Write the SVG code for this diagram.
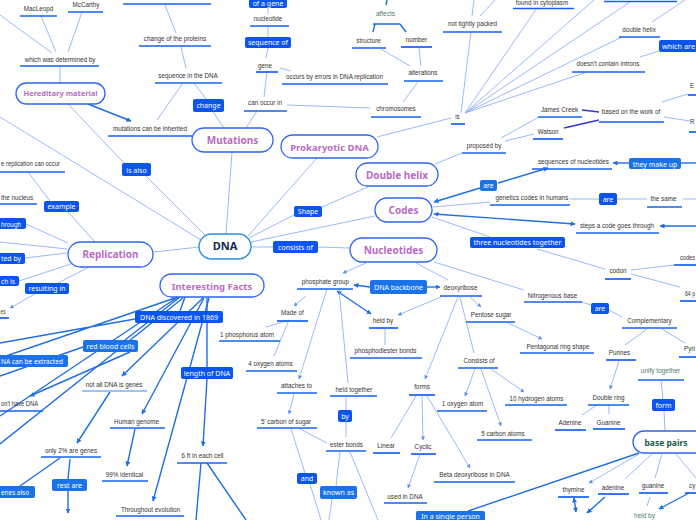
<svg xmlns="http://www.w3.org/2000/svg" width="696" height="520" viewBox="0 0 696 520">
<defs>
<style>
.t{font-family:"Liberation Sans",Arial,sans-serif;font-size:6.3px;fill:#333;text-anchor:middle}
.ts{font-family:"Liberation Sans",Arial,sans-serif;font-size:6.3px;fill:#333}
.tg{font-family:"Liberation Sans",Arial,sans-serif;font-size:6.5px;fill:#4d7a66;text-anchor:middle}
.u{stroke:#1560f5;stroke-width:1.7;fill:none}
.ul{stroke:#7fb0f0;stroke-width:1.7;fill:none}
.c{stroke:#8db2f6;stroke-width:0.9;fill:none}
.ck{stroke:#1f6fe3;stroke-width:1.4;fill:none}
.ci{stroke:#3434d8;stroke-width:1.3;fill:none}
.lb{fill:#0a55f0}
.lb2{fill:#1a73e8}
.lt{font-family:"Noto Sans",sans-serif;font-size:7px;fill:#fff;text-anchor:middle}
.lts{font-family:"Noto Sans",sans-serif;font-size:7px;fill:#fff}
.n{fill:#fff;stroke:#2b63f5;stroke-width:1.3}
.nt{font-family:"Noto Sans",sans-serif;font-size:10px;font-weight:bold;fill:#b86cc4;text-anchor:middle}
</style>
<marker id="a" viewBox="0 0 10 10" refX="9" refY="5" markerWidth="5" markerHeight="5" markerUnits="userSpaceOnUse" orient="auto-start-reverse"><path d="M0,0L10,5L0,10z" fill="#1f6fe3"/></marker>
<marker id="as" viewBox="0 0 10 10" refX="9" refY="5" markerWidth="4" markerHeight="4" markerUnits="userSpaceOnUse" orient="auto-start-reverse"><path d="M0,0L10,5L0,10z" fill="#5a8ff0"/></marker>
</defs>
<rect width="696" height="520" fill="#fff"/>

<g id="connectors">
<path class="c" d="M0,15L52,53M41,16L56,52M82,12L68,52M60,66L60,83M68,104L124,163M146,176L205,235M0,117L201,240M28,172L50,201M68,212L95,242M26,224L68,243M0,242L67,249M25,258L67,253M19,281L71,264M89,267L58,283M154,252L199,247M183,83L157,120M165,5L176,33M181,47L186,68M194,83L206,99M213,112L224,128M268,8L268,14M268,26L268,37M268,48L266,58M280,68L291,71M267,72L264,97M287,105L370,108M257,111L246,128M232,152L226,234M317,158L248,236"/>
<path class="ck" d="M88,104L131,121" marker-end="url(#a)"/>
<path class="c" d="M35,294L10,308" marker-end="url(#as)"/>
<path class="ck" d="M387,0L386,5M373,24L400,24M375,24L373,32M400,24L406,32"/>
<path class="c" d="M381,49L410,66M419,48L421,66M418,82L403,102M461,113L471,32M472,16L474,0M480,16L495,0M465,113L537,8M465,113L594,0M465,113L630,2M465,113L622,37M465,113L587,72M451,118L377,137M462,153L435,164M501,138L539,117M505,141L534,134M662,102L688,94M664,117L690,121M652,22L685,0M659,51L640,57"/>
<path class="ci" d="M582,110L599,112M564,128L599,120"/>
<path class="ck" d="M629,163L613,163" marker-end="url(#a)"/>
<path class="ck" d="M681,163L696,163"/>
<path class="ck" d="M498,183L548,168" marker-end="url(#a)"/>
<path class="ck" d="M480,188L434,202" marker-end="url(#a)"/>
<path class="c" d="M368,187L322,207M294,215L249,238M251,242L375,216M251,247L273,247M318,247L350,248M433,207L490,202M432,217L490,237M570,199L599,199M617,199L647,199M683,199L696,199M537,249L605,269M631,270L674,265M631,274L680,287M434,262L524,290M582,302L591,305M609,310L622,317M647,329L625,345M662,329L685,343M416,263L448,280"/>
<path class="ck" d="M434,214L575,224" marker-start="url(#a)" marker-end="url(#a)"/>
<path class="ck" d="M696,226L660,226" marker-end="url(#a)"/>
<path class="c" d="M366,263L343,273" marker-end="url(#as)"/>
<path class="ck" d="M370,287L354,285" marker-end="url(#a)"/>
<path class="ck" d="M427,287L440,287" marker-end="url(#a)"/>
<path class="ck" d="M337,291L371,314" marker-start="url(#a)" marker-end="url(#a)"/>
<path class="c" d="M441,297L398,315" marker-end="url(#as)"/>
<path class="c" d="M385,329L385,345"/>
<path class="c" d="M470,297L481,307" marker-end="url(#as)"/>
<path class="c" d="M506,322L542,339" marker-end="url(#as)"/>
<path class="c" d="M306,296L294,306" marker-end="url(#as)"/>
<path class="c" d="M289,320L266,327M289,320L274,356"/>
<path class="c" d="M327,289L299,379" marker-end="url(#as)"/>
<path class="c" d="M294,394L289,414" marker-end="url(#as)"/>
<path class="c" d="M339,289L348,383M346,397L346,410M346,422L346,437M300,429L327,443M291,429L305,473M310,484L321,520M340,452L336,486M332,499L329,520M350,452L378,520"/>
<path class="c" d="M458,297L425,379" marker-end="url(#as)"/>
<path class="c" d="M460,297L474,353M416,396L391,438"/>
<path class="c" d="M475,369L465,396" marker-end="url(#as)"/>
<path class="c" d="M481,369L501,426" marker-end="url(#as)"/>
<path class="c" d="M491,369L524,392" marker-end="url(#as)"/>
<path class="c" d="M422,396L423,440" marker-end="url(#as)"/>
<path class="c" d="M427,396L470,468" marker-end="url(#as)"/>
<path class="c" d="M420,454L408,488" marker-end="url(#as)"/>
<path class="ck" d="M639,453L468,511"/>
<path class="c" d="M619,361L610,389" marker-end="url(#as)"/>
<path class="c" d="M597,405L582,415M609,405L609,414M661,380L663,399M664,411L665,431M652,454L625,479M662,454L655,478M676,454L696,478M650,497L647,506"/>
<path class="c" d="M639,454L589,483" marker-end="url(#as)"/>
<path class="ck" d="M689,493L659,509" marker-end="url(#a)"/>
<path class="ck" d="M574,498L576,512" marker-start="url(#a)" marker-end="url(#a)"/>
<path class="ck" d="M605,497L587,513" marker-end="url(#a)"/>
<path class="ck" d="M175,298L0,358M185,297L180,311M135,319L0,343M180,297L125,340M83,347L0,376M178,297L0,416M183,298L0,444M207,298L207,367M60,458L20,486M70,459L68,479M201,463L196,520M207,463L246,520"/>
<path class="ck" d="M130,352L30,396" marker-end="url(#a)"/>
<path class="ck" d="M203,298L122,376" marker-end="url(#a)"/>
<path class="ck" d="M204,298L142,414" marker-end="url(#a)"/>
<path class="ck" d="M207,379L203,446" marker-end="url(#a)"/>
<path class="ck" d="M209,298L153,501" marker-end="url(#a)"/>
<path class="ck" d="M110,392L77,443" marker-end="url(#a)"/>
<path class="ck" d="M135,429L127,466" marker-end="url(#a)"/>
<path class="ck" d="M68,491L68,513" marker-end="url(#a)"/>
</g>

<g id="n-hereditary"><rect class="n" x="16" y="83" width="89" height="21" rx="10.5"/><text class="nt" x="60.5" y="96" style="font-size:7.5px">Hereditary material</text></g>
<g id="n-mutations"><rect class="n" x="192" y="128" width="81" height="24" rx="12"/><text class="nt" x="232.5" y="144">Mutations</text></g>
<g id="n-prokaryotic"><rect class="n" x="281" y="135" width="97" height="23" rx="11.5"/><text class="nt" x="329.5" y="150.5" style="font-size:9.5px">Prokaryotic DNA</text></g>
<g id="n-doublehelix"><rect class="n" x="356" y="163" width="82" height="23" rx="11.5"/><text class="nt" x="397" y="178.5">Double helix</text></g>
<g id="n-codes"><rect class="n" x="375" y="198" width="57" height="24" rx="12"/><text class="nt" x="403.5" y="213.5">Codes</text></g>
<g id="n-nucleotides"><rect class="n" x="350" y="238" width="87" height="24" rx="12"/><text class="nt" x="393.5" y="253.5">Nucleotides</text></g>
<g id="n-dna"><rect x="199" y="234" width="52" height="25" rx="12.5" fill="#fff" stroke="#2f8fdc" stroke-width="1.4"/><text x="225" y="250" style="font-family:'Noto Sans',sans-serif;font-size:11px;font-weight:bold;fill:#0f2a4f;text-anchor:middle">DNA</text></g>
<g id="n-replication"><rect class="n" x="68" y="242" width="85" height="25" rx="12.5"/><text class="nt" x="110.5" y="258">Replication</text></g>
<g id="n-facts"><rect class="n" x="160" y="274" width="104" height="23" rx="11.5"/><text class="nt" x="212" y="289.5" style="font-size:9.5px">Interesting Facts</text></g>
<g id="n-basepairs"><rect class="n" x="633" y="431" width="80" height="22" rx="11"/><text x="666" y="446" style="font-family:'Noto Sans',sans-serif;font-size:8.5px;font-weight:bold;fill:#1e5a48;text-anchor:middle">base pairs</text></g>

<g id="labels">
<g id="l-ofagene"><rect class="lb" x="249" y="-4" width="38" height="12" rx="2"/><text class="lt" x="268" y="5.5">of a gene</text></g>
<g id="l-sequenceof"><rect class="lb" x="245" y="37" width="46" height="11" rx="2"/><text class="lt" x="268" y="45">sequence of</text></g>
<g id="l-change"><rect class="lb" x="193" y="99" width="31" height="13" rx="2"/><text class="lt" x="208.5" y="108">change</text></g>
<g id="l-isalso"><rect class="lb" x="122" y="163" width="29" height="13" rx="2"/><text class="lt" x="136.5" y="172.5">is also</text></g>
<g id="l-whichare"><rect class="lb" x="659" y="40" width="40" height="12" rx="2"/><text class="lts" x="662" y="49" textLength="33" lengthAdjust="spacingAndGlyphs">which are</text></g>
<g id="l-theymakeup"><rect class="lb2" x="629" y="158" width="52" height="11" rx="2"/><text class="lt" x="655" y="166.5">they make up</text></g>
<g id="l-are1"><rect class="lb2" x="480" y="180" width="17" height="11" rx="2"/><text class="lt" x="488.5" y="188">are</text></g>
<g id="l-are2"><rect class="lb" x="599" y="193" width="18" height="12" rx="2"/><text class="lt" x="608" y="201.5">are</text></g>
<g id="l-shape"><rect class="lb" x="294" y="206" width="28" height="11" rx="2"/><text class="lt" x="308" y="214">Shape</text></g>
<g id="l-consistsof"><rect class="lb" x="273" y="241" width="45" height="12" rx="2"/><text class="lt" x="295.5" y="249.5">consists of</text></g>
<g id="l-three"><rect class="lb" x="470" y="237" width="95" height="11" rx="2"/><text class="lt" x="517.5" y="245">three nucleotides together</text></g>
<g id="l-backbone"><rect class="lb2" x="370" y="280" width="57" height="14" rx="2"/><text class="lt" x="398.5" y="289.5">DNA backbone</text></g>
<g id="l-are3"><rect class="lb" x="591" y="303" width="18" height="11" rx="2"/><text class="lt" x="600" y="311">are</text></g>
<g id="l-example"><rect class="lb" x="44" y="201" width="35" height="11" rx="2"/><text class="lt" x="61.5" y="209">example</text></g>
<g id="l-through"><rect class="lb" x="-4" y="218" width="30" height="11" rx="2"/><text class="lts" x="1" y="226.5" textLength="20" lengthAdjust="spacingAndGlyphs">hrough</text></g>
<g id="l-tedby"><rect class="lb" x="-4" y="253" width="29" height="11" rx="2"/><text class="lts" x="1" y="261" textLength="20" lengthAdjust="spacingAndGlyphs">ted by</text></g>
<g id="l-chis"><rect class="lb" x="-4" y="276" width="23" height="10" rx="2"/><text class="lts" x="1" y="283.5" textLength="14" lengthAdjust="spacingAndGlyphs">ch is</text></g>
<g id="l-resulting"><rect class="lb" x="25" y="283" width="44" height="11" rx="2"/><text class="lt" x="47" y="291">resulting in</text></g>
<g id="l-discovered"><rect class="lb" x="135" y="311" width="88" height="12" rx="2"/><text class="lt" x="179" y="319.5">DNA discovered in 1869</text></g>
<g id="l-redblood"><rect class="lb2" x="83" y="340" width="55" height="12" rx="2"/><text class="lt" x="110.5" y="348.5">red blood cells</text></g>
<g id="l-extracted"><rect class="lb2" x="-4" y="355" width="72" height="12" rx="2"/><text class="lts" x="1" y="363.5" textLength="62" lengthAdjust="spacingAndGlyphs">NA can be extracted</text></g>
<g id="l-length"><rect class="lb" x="181" y="367" width="52" height="12" rx="2"/><text class="lt" x="207" y="375.5">length of DNA</text></g>
<g id="l-enesalso"><rect class="lb2" x="-4" y="486" width="39" height="12" rx="2"/><text class="lts" x="1" y="494.5" textLength="28" lengthAdjust="spacingAndGlyphs">enes also</text></g>
<g id="l-restare"><rect class="lb2" x="52" y="479" width="35" height="12" rx="2"/><text class="lt" x="69.5" y="487.5">rest are</text></g>
<g id="l-form"><rect class="lb" x="652" y="399" width="23" height="12" rx="2"/><text class="lt" x="663.5" y="407.5">form</text></g>
<g id="l-by"><rect class="lb" x="338" y="410" width="14" height="12" rx="2"/><text class="lt" x="345" y="418.5">by</text></g>
<g id="l-and"><rect class="lb" x="297" y="473" width="20" height="11" rx="2"/><text class="lt" x="307" y="481">and</text></g>
<g id="l-knownas"><rect class="lb2" x="320" y="486" width="37" height="13" rx="2"/><text class="lt" x="338.5" y="495">known as</text></g>
<g id="l-single"><rect class="lb2" x="416" y="511" width="69" height="15" rx="2"/><text class="lt" x="450.5" y="519">In a single person</text></g>
</g>

<g id="texts">
<g id="t1"><text class="t" x="38.5" y="10.8">MacLeopd</text><path class="u" d="M20,16H57"/></g>
<g id="t2"><text class="t" x="86" y="7">McCarthy</text><path class="u" d="M68,12H103"/></g>
<g id="t3"><text class="t" x="60" y="61.5">which was determined by</text><path class="u" d="M20,66H99"/></g>
<g id="t4"><text class="t" x="150" y="130.5">mutations can be inherited</text><path class="u" d="M108,136H192"/></g>
<g id="t5"><text class="ts" x="1" y="166" textLength="59" lengthAdjust="spacingAndGlyphs">e replication can occur</text><path class="u" d="M0,172H65"/></g>
<g id="t6"><path class="u" d="M123,4H211"/></g>
<g id="t7"><text class="t" x="175" y="41">change of the proteins</text><path class="u" d="M139,46H211"/></g>
<g id="t8"><text class="t" x="188" y="77.5">sequence in the DNA</text><path class="u" d="M155,83H222"/></g>
<g id="t9"><text class="t" x="268" y="21">nucleotide</text><path class="u" d="M250,26H289"/></g>
<g id="t10"><text class="t" x="265" y="67.5">gene</text><path class="u" d="M256,72H278"/></g>
<g id="t11"><text class="ts" x="286" y="79">occurs by errors in DNA replication</text><path class="u" d="M282,84H388"/></g>
<g id="t12"><text class="t" x="265" y="105">can occur in</text><path class="u" d="M244,111H287"/></g>
<g id="t13"><text class="tg" x="385.5" y="16">affects</text></g>
<g id="t14"><text class="t" x="368.5" y="43">structure</text><path class="u" d="M352,48H386"/></g>
<g id="t15"><text class="t" x="416.5" y="42">number</text><path class="u" d="M401,47H432"/></g>
<g id="t16"><text class="t" x="423" y="75">alterations</text><path class="u" d="M404,81H443"/></g>
<g id="t17"><text class="t" x="396" y="111">chromosomes</text><path class="u" d="M371,117H421"/></g>
<g id="t18"><text class="t" x="472.5" y="26">not tightly packed</text><path class="u" d="M443,32H502"/></g>
<g id="t19"><text class="t" x="457.5" y="118.5">is</text><path class="u" d="M451,124H465"/></g>
<g id="t20"><text class="t" x="484" y="147.5">proposed by</text><path class="u" d="M462,153H506"/></g>
<g id="t21"><text class="t" x="542" y="5.3">found in cytoplasm</text><path class="u" d="M513,8.5H574"/></g>
<g id="t22"><path class="u" d="M604,1.5H677"/></g>
<g id="t23"><text class="t" x="639" y="31.5">double helix</text><path class="u" d="M619,37H660"/></g>
<g id="t24"><text class="t" x="608" y="65.5">doesn't contain introns</text><path class="u" d="M572,72H645"/></g>
<g id="t25"><text class="t" x="559.5" y="111.5">James Creek</text><path class="u" d="M538,117H582"/></g>
<g id="t26"><text class="t" x="548" y="134">Watson</text><path class="u" d="M533,139H563"/></g>
<g id="t27"><text class="t" x="631" y="114">based on the work of</text><path class="u" d="M599,122H664"/></g>
<g id="t28"><text class="ts" x="690" y="87.5">E</text><path class="u" d="M688,95H696"/></g>
<g id="t29"><text class="ts" x="690" y="123.5">R</text><path class="u" d="M689,132H696"/></g>
<g id="t30"><text class="t" x="573.5" y="164">sequences of nucleotides</text><path class="u" d="M532,169H612"/></g>
<g id="t31"><text class="t" x="532" y="200">genetics codes in humans</text><path class="u" d="M490,205H570"/></g>
<g id="t32"><text class="t" x="663.5" y="201">the same</text><path class="u" d="M647,207H682"/></g>
<g id="t33"><text class="t" x="617" y="228">steps a code goes through</text><path class="u" d="M576,233H659"/></g>
<g id="t34"><text class="t" x="618" y="273">codon</text><path class="u" d="M605,279H631"/></g>
<g id="t35"><text class="ts" x="680" y="260" textLength="15" lengthAdjust="spacingAndGlyphs">codes</text><path class="u" d="M674,265H696"/></g>
<g id="t36"><text class="ts" x="685" y="295.5" textLength="10" lengthAdjust="spacingAndGlyphs">64 p</text><path class="u" d="M680,301H696"/></g>
<g id="t37"><text class="t" x="552.5" y="298">Nitrogenous base</text><path class="u" d="M524,302H582"/></g>
<g id="t38"><text class="t" x="649.5" y="323">Complementary</text><path class="u" d="M622,328H677"/></g>
<g id="t39"><text class="t" x="491" y="317">Pentose sugar</text><path class="u" d="M466,322H515"/></g>
<g id="t40"><text class="t" x="558" y="348.5">Pentagonal ring shape</text><path class="u" d="M520,353H594"/></g>
<g id="t41"><text class="t" x="460.5" y="289.5">deoxyribose</text><path class="u" d="M440,296H482"/></g>
<g id="t42"><text class="t" x="325.5" y="284">phosphate group</text><path class="u" d="M297,289H353"/></g>
<g id="t43"><text class="t" x="383" y="323">held by</text><path class="u" d="M369,328H398"/></g>
<g id="t44"><text class="t" x="385.5" y="353">phosphodiester bonds</text><path class="u" d="M350,358H422"/></g>
<g id="t45"><text class="t" x="292.5" y="314.5">Made of</text><path class="u" d="M277,321H308"/></g>
<g id="t46"><text class="t" x="247" y="336.5">1 phosphorus atom</text><path class="u" d="M219,341H280"/></g>
<g id="t47"><text class="t" x="270.5" y="366">4 oxygen atoms</text><path class="u" d="M246,371H297"/></g>
<g id="t48"><text class="t" x="296.5" y="387.5">attaches to</text><path class="u" d="M277,393H317"/></g>
<g id="t49"><text class="t" x="286" y="423.5">5' carbon of sugar</text><path class="u" d="M257,428H317"/></g>
<g id="t50"><text class="t" x="354" y="391.5">held together</text><path class="u" d="M330,396H377"/></g>
<g id="t51"><text class="t" x="346.5" y="446.5">ester bonds</text><path class="u" d="M326,451H366"/></g>
<g id="t52"><text class="t" x="422" y="389">forms</text><path class="u" d="M409,395H435"/></g>
<g id="t53"><text class="t" x="479" y="362.5">Consists of</text><path class="u" d="M458,368H498"/></g>
<g id="t54"><text class="t" x="462.5" y="406">1 oxygen atom</text><path class="u" d="M437,411H487"/></g>
<g id="t55"><text class="t" x="503" y="435.5">5 carbon atoms</text><path class="u" d="M477,440H532"/></g>
<g id="t56"><text class="t" x="536.5" y="400.5">10 hydrogen atoms</text><path class="u" d="M505,405H567"/></g>
<g id="t57"><text class="t" x="386" y="447.5">Linear</text><path class="u" d="M373,453H400"/></g>
<g id="t58"><text class="t" x="423" y="449">Cyclic</text><path class="u" d="M411,454H436"/></g>
<g id="t59"><text class="t" x="474.5" y="476.5">Beta  deoxyribose  in DNA</text><path class="u" d="M434,482H515"/></g>
<g id="t60"><text class="t" x="405" y="498.5">used in DNA</text><path class="u" d="M384,503H427"/></g>
<g id="t61"><text class="t" x="619.5" y="355">Purines</text><path class="u" d="M606,360H636"/></g>
<g id="t62"><text class="t" x="608.5" y="399.5">Double ring</text><path class="u" d="M588,405H629"/></g>
<g id="t63"><text class="t" x="570" y="425">Adenine</text><path class="u" d="M555,430H586"/></g>
<g id="t64"><text class="t" x="608.5" y="424.5">Guanine</text><path class="u" d="M593,429H625"/></g>
<g id="t65"><text class="ts" x="684" y="350.5" textLength="11" lengthAdjust="spacingAndGlyphs">Pyri</text><path class="u" d="M679,357H696"/></g>
<g id="t66"><text class="tg" x="660.5" y="372.5">unify together</text><path class="u" d="M638,380H684"/></g>
<g id="t67"><text class="t" x="573.5" y="491.5">thymine</text><path class="u" d="M558,497H589"/></g>
<g id="t68"><text class="t" x="613" y="489.5">adenine</text><path class="u" d="M598,494H629"/></g>
<g id="t69"><text class="t" x="653" y="487.5">guanine</text><path class="u" d="M639,493H668"/></g>
<g id="t70"><text class="ts" x="689" y="487.5">cy</text><path class="u" d="M685,493H696"/></g>
<g id="t71"><text class="tg" x="644.5" y="518">held by</text></g>
<g id="t72"><text class="t" x="114" y="386.5">not all DNA is genes</text><path class="ul" d="M82,391H147"/></g>
<g id="t73"><text class="ts" x="1" y="405.5" textLength="37" lengthAdjust="spacingAndGlyphs">on't have DNA</text><path class="u" d="M0,411H43"/></g>
<g id="t74"><text class="t" x="136.5" y="423.5">Human genome</text><path class="u" d="M110,428H165"/></g>
<g id="t75"><text class="t" x="71" y="452.5">only 2% are genes</text><path class="u" d="M41,457H101"/></g>
<g id="t76"><text class="t" x="124.5" y="476.5">99% identical</text><path class="u" d="M102,481H148"/></g>
<g id="t77"><text class="t" x="150.5" y="511.5">Throughout evolution</text><path class="u" d="M116,516H184"/></g>
<g id="t78"><text class="t" x="202.5" y="457.5">6 ft in each cell</text><path class="u" d="M177,463H227"/></g>
<g id="t79"><text class="ts" x="1" y="199.5">the nucleus</text><path class="u" d="M0,204H37"/></g>
<g id="t80"><text class="ts" x="0.5" y="313.5" textLength="5" lengthAdjust="spacingAndGlyphs">es</text><path class="u" d="M0,318H9"/></g>
</g>
</svg>
